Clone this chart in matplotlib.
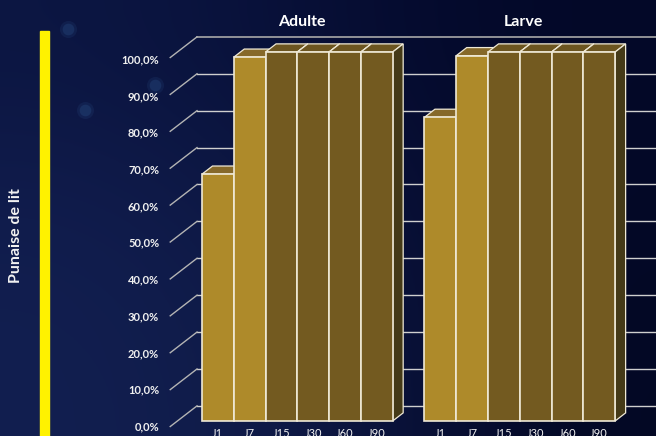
import matplotlib
matplotlib.use('Agg')
import matplotlib.pyplot as plt
from matplotlib.patches import Polygon, Rectangle
import numpy as np

plt.rcParams['font.family'] = ['Lato', 'DejaVu Sans']

days = ['J1', 'J7', 'J15', 'J30', 'J60', 'J90']
adulte = [66.9, 98.6, 100, 100, 100, 100]
larve = [82.3, 99.0, 100, 100, 100, 100]
ticks = [0, 10, 20, 30, 40, 50, 60, 70, 80, 90, 100]
tick_labels = ['0,0%', '10,0%', '20,0%', '30,0%', '40,0%', '50,0%',
               '60,0%', '70,0%', '80,0%', '90,0%', '100,0%']

W, H = 656, 436
PX_X = 31.78   # pixels per bar
PX_Y = 3.69    # pixels per percent

fig = plt.figure(figsize=(W / 100, H / 100), dpi=100)
ax = fig.add_axes([0, 0, 1, 1])
x0, x1 = -202 / PX_X, (W - 202) / PX_X
y0, y1 = (421 - H) / PX_Y, 421 / PX_Y
ax.set_xlim(x0, x1)
ax.set_ylim(y0, y1)
ax.axis('off')

# night blue background
bg = np.array([
    [[12, 22, 66], [9, 18, 60], [5, 11, 46], [3, 8, 40]],
    [[17, 29, 78], [14, 25, 70], [8, 15, 54], [3, 8, 38]],
    [[18, 31, 80], [16, 28, 74], [9, 17, 56], [3, 8, 36]],
]) / 255
ax.imshow(bg, extent=(x0, x1, y0, y1), aspect='auto', interpolation='bicubic',
          origin='upper', zorder=0)
for size, a in [(150, 0.12), (70, 0.2)]:
    ax.scatter([(68 - 202) / PX_X, (85 - 202) / PX_X, (155 - 202) / PX_X],
               [(421 - 29) / PX_Y, (421 - 110) / PX_Y, (421 - 85) / PX_Y],
               s=size, color='#3a6ea8', alpha=a, linewidths=0, zorder=1)

# yellow band
fig.add_artist(Rectangle((40 / W, 0), 9 / W, (H - 31) / H, color='#fff200',
                         transform=fig.transFigure, zorder=2))

# wall
wall_x = -0.157
wall_dy = 4.1
for t in ticks:
    col, lw = ('#a8a8a8', 1.2) if t == 100 else ('#cfcfcf', 1.0)
    ax.plot([wall_x, x1], [t + wall_dy, t + wall_dy], color=col, lw=lw, zorder=3)
    ax.plot([-1.0, wall_x], [t - 1.5, t + wall_dy], color='#b4b4b4', lw=1.0, zorder=3)

dx, dy = 0.33, 2.2
edge = '#efe9d6'


def draw_group(start, values):
    for i, v in enumerate(values):
        x = start + i
        light = i < 2
        front = '#ae8a2a' if light else '#735a20'
        top = '#86692a' if light else '#6c5520'
        z = 4 + i * 0.1
        ax.add_patch(Polygon([(x, v), (x + dx, v + dy), (x + 1 + dx, v + dy), (x + 1, v)],
                             fc=top, ec=edge, lw=0.9, zorder=z))
        ax.add_patch(Polygon([(x + 1, 0), (x + 1 + dx, dy), (x + 1 + dx, v + dy), (x + 1, v)],
                             fc='#453a17', ec=edge, lw=0.9, zorder=z))
        ax.bar(x, v, width=1, align='edge', color=front, edgecolor=edge, lw=1.2, zorder=z + 0.05)
        ax.text(x + 0.5, (421 - 433) / PX_Y, days[i], color='#f2f2f2', fontsize=8,
                ha='center', va='center', zorder=6)


draw_group(0, adulte)
draw_group(7, larve)

for t, lab in zip(ticks, tick_labels):
    ax.text(-1.35, t * 0.995 - 1.6, lab, color='#f0f0f0', fontsize=8, fontweight='bold',
            ha='right', va='center', zorder=6)

ax.text(3.15, (421 - 22) / PX_Y, 'Adulte', color='white', fontsize=11.5, fontweight='bold',
        ha='center', va='center', zorder=6)
ax.text(10.12, (421 - 22) / PX_Y, 'Larve', color='white', fontsize=11.5, fontweight='bold',
        ha='center', va='center', zorder=6)
ax.text((16 - 202) / PX_X, (421 - 236) / PX_Y, 'Punaise de lit', color='#f2f2f2', fontsize=11.5,
        fontweight='bold', rotation=90, ha='center', va='center', zorder=6)

fig.savefig('out.png', dpi=100)
